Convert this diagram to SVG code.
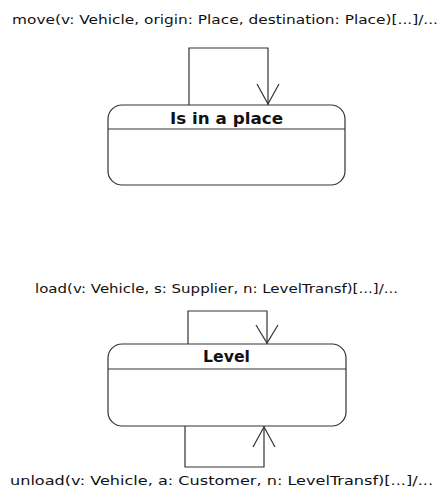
<svg xmlns="http://www.w3.org/2000/svg" width="442" height="496" viewBox="0 0 442 496">
<style>
.box{fill:#fff;stroke:#333;stroke-width:1.2}
.ln{fill:none;stroke:#333;stroke-width:1.2}
.lbl{font-family:"DejaVu Sans",Verdana,sans-serif;font-size:12.5px;fill:#111}
.ttl{font-family:"DejaVu Sans",Verdana,sans-serif;font-size:15px;font-weight:bold;fill:#111;text-anchor:middle}
</style>
<rect width="442" height="496" fill="#fff"/>
<g id="connectors">
<g id="move">
<polyline class="ln" points="189,105 189,48 268,48 268,105"/>
<polyline class="ln" points="257,84 268,104 279,84"/>
<text class="lbl" x="12" y="24" textLength="426" lengthAdjust="spacingAndGlyphs">move(v: Vehicle, origin: Place, destination: Place)[...]/...</text>
</g>
<g id="load">
<polyline class="ln" points="188,344 188,311 267,311 267,344"/>
<polyline class="ln" points="256,325 267,343 278,325"/>
<text class="lbl" x="35" y="293" textLength="363" lengthAdjust="spacingAndGlyphs">load(v: Vehicle, s: Supplier, n: LevelTransf)[...]/...</text>
</g>
<g id="unload">
<polyline class="ln" points="185,426 185,467 264,467 264,426"/>
<polyline class="ln" points="253,447 264,427 275,447"/>
<text class="lbl" x="10" y="485" textLength="423" lengthAdjust="spacingAndGlyphs">unload(v: Vehicle, a: Customer, n: LevelTransf)[...]/...</text>
</g>
</g>
<g id="state-is-in-a-place">
<rect class="box" x="108" y="105" width="237" height="80" rx="14"/>
<line class="ln" x1="108" y1="129" x2="345" y2="129"/>
<text class="ttl" x="226.5" y="124" textLength="113" lengthAdjust="spacingAndGlyphs">Is in a place</text>
</g>
<g id="state-level">
<rect class="box" x="108" y="344" width="238" height="82" rx="14"/>
<line class="ln" x1="108" y1="369" x2="346" y2="369"/>
<text class="ttl" x="226.5" y="362" textLength="47" lengthAdjust="spacingAndGlyphs">Level</text>
</g>
</svg>
